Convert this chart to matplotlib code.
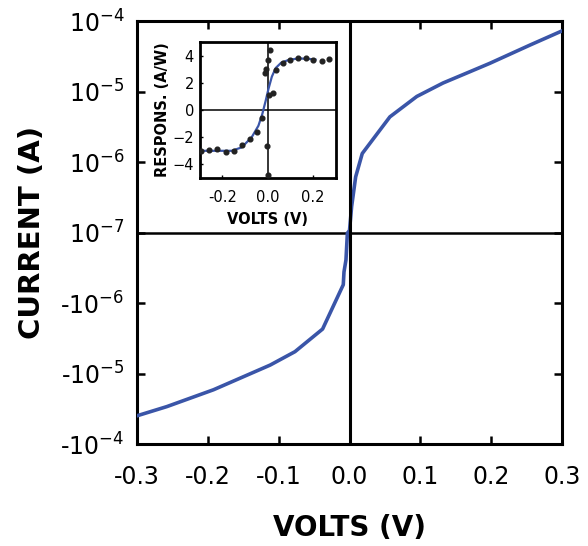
import numpy as np
import matplotlib
matplotlib.use("Agg")
import matplotlib.pyplot as plt
from matplotlib.ticker import FixedLocator

plt.rcParams['font.family'] = 'DejaVu Sans'
plt.rcParams['mathtext.default'] = 'regular'

# main I-V curve (volts, amps)
v_iv = [-0.3, -0.258, -0.192, -0.112, -0.077, -0.038, -0.0088, -0.0078, -0.005, -0.003,
        0.0, 0.003, 0.0087, 0.018, 0.057, 0.095, 0.132, 0.17, 0.198, 0.255, 0.3]
i_iv = [-3.98e-5, -2.95e-5, -1.70e-5, -7.59e-6, -4.90e-6, -2.34e-6, -5.50e-7, -3.63e-7, -2.45e-7, -1.02e-7,
        1.07e-7, 2.34e-7, 6.17e-7, 1.32e-6, 4.37e-6, 8.51e-6, 1.32e-5, 1.91e-5, 2.51e-5, 4.57e-5, 7.24e-5]

y_ticks = [-1e-4, -1e-5, -1e-6, 1e-7, 1e-6, 1e-5, 1e-4]
y_labels = ['-10$^{-4}$', '-10$^{-5}$', '-10$^{-6}$', '10$^{-7}$', '10$^{-6}$', '10$^{-5}$', '10$^{-4}$']
x_ticks = [-0.3, -0.2, -0.1, 0.0, 0.1, 0.2, 0.3]

# inset: responsivity
v_pts = [-0.294, -0.259, -0.224, -0.185, -0.150, -0.112, -0.078, -0.047, -0.024, -0.013, -0.006,
         -0.003, -0.001, 0.003, 0.012, 0.004, 0.024, 0.035, 0.066, 0.099, 0.132, 0.168, 0.201, 0.237, 0.271]
r_pts = [-3.03, -2.98, -2.91, -3.10, -3.03, -2.61, -2.17, -1.67, -0.64, 2.68, 3.00,
         -2.66, -4.83, 3.69, 4.43, 1.11, 1.21, 2.96, 3.47, 3.65, 3.82, 3.79, 3.67, 3.57, 3.72]
v_fit = [-0.3, -0.232, -0.159, -0.115, -0.071, -0.041, -0.024, -0.009, 0.003, 0.018, 0.035,
         0.059, 0.091, 0.135, 0.187, 0.21]
r_fit = [-3.03, -3.03, -3.03, -2.78, -2.04, -1.18, -0.32, 0.67, 1.53, 2.44, 3.08,
         3.47, 3.67, 3.79, 3.74, 3.70]

blue = '#3a55a8'


def fwd(i):
    i = np.asarray(i, dtype=float)
    return np.sign(i) * np.log10(np.maximum(np.abs(i), 1e-7) / 1e-7)


def inv(y):
    y = np.asarray(y, dtype=float)
    return np.sign(y) * 1e-7 * 10 ** np.abs(y)


fig = plt.figure(figsize=(5.88, 5.46), dpi=100)
ax = fig.add_axes([0.233, 0.1868, 0.7228, 0.7747])
ax.set_yscale('function', functions=(fwd, inv))
ax.plot(v_iv, i_iv, color=blue, lw=2.6, zorder=3)
ax.axvline(0, color='black', lw=2.2, zorder=4)
ax.axhline(1e-7, color='black', lw=1.8, zorder=2)
ax.set_xlim(-0.3, 0.3)
ax.set_ylim(-1e-4, 1e-4)
ax.xaxis.set_major_locator(FixedLocator(x_ticks))
ax.set_xticklabels(['%.1f' % t for t in x_ticks])
ax.yaxis.set_major_locator(FixedLocator(y_ticks))
ax.set_yticklabels(y_labels)
ax.minorticks_off()
ax.tick_params(direction='in', length=6, width=1.8, labelsize=17, top=True, right=True)
ax.tick_params(axis='x', pad=15)
ax.tick_params(axis='y', pad=9)
for s in ax.spines.values():
    s.set_linewidth(2.2)
ax.set_xlabel('VOLTS (V)', fontsize=20, fontweight='bold', labelpad=18)
ax.set_ylabel('CURRENT (A)', fontsize=21, fontweight='bold', labelpad=10)

# inset
ins = fig.add_axes([0.3393, 0.6749, 0.2321, 0.2482])
ins.plot(v_fit, r_fit, color=blue, lw=1.6, zorder=2)
ins.plot(v_pts, r_pts, 'o', color='#222222', ms=3.4, zorder=3)
ins.axvline(0, color='black', lw=1.1, zorder=1)
ins.axhline(0, color='black', lw=1.1, zorder=1)
ins.set_xlim(-0.3, 0.3)
ins.set_ylim(-5, 5)
ins.set_xticks([-0.2, 0.0, 0.2])
ins.set_xticklabels(['-0.2', '0.0', '0.2'])
ins.set_yticks([-4, -2, 0, 2, 4])
ins.tick_params(direction='in', length=2.5, width=1, labelsize=10.5)
ins.tick_params(axis='x', pad=9)
ins.tick_params(axis='y', pad=4)
for s in ins.spines.values():
    s.set_linewidth(2)
ins.set_xlabel('VOLTS (V)', fontsize=10.5, fontweight='bold', labelpad=5)
ins.set_ylabel('RESPONS. (A/W)', fontsize=10.5, fontweight='bold', labelpad=2)

plt.savefig('out.png', dpi=100)
